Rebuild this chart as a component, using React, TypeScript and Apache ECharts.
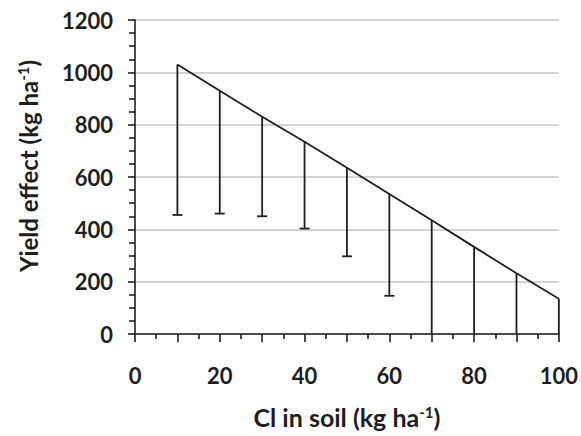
import React, { useEffect, useRef } from "react";
import * as echarts from "echarts";

const xValues = [10, 20, 30, 40, 50, 60, 70, 80, 90, 100];
const topValues = [1030, 930, 830, 735, 635, 535, 435, 333, 232, 135];
const lowValues = [455, 460, 450, 403, 297, 146, 0, 0, 0, 0];
const xTickLabels = ["0", "20", "40", "60", "80", "100"];

const FONT = "Lato, 'Open Sans', sans-serif";
const INK = "#1e1e1e";

export default function App() {
  const ref = useRef<HTMLDivElement>(null);
  useEffect(() => {
    const chart = echarts.init(ref.current!, null, { renderer: "svg" });
    const bars = xValues.map((x, i) => [x, topValues[i], lowValues[i]]);
    chart.setOption({
      animation: false,
      backgroundColor: "#ffffff",
      grid: { left: 135, right: 20, top: 20, bottom: 102 },
      xAxis: {
        type: "value",
        min: 0,
        max: 100,
        interval: 10,
        name: "{a|Cl in soil (kg ha}{s|-1}{a|)}",
        nameLocation: "middle",
        nameGap: 70,
        nameTextStyle: {
          rich: {
            a: { fontFamily: FONT, fontWeight: "bold", fontSize: 25, color: INK },
            s: { fontFamily: FONT, fontWeight: "bold", fontSize: 15, color: INK, verticalAlign: "top", padding: [0, 0, 10, 0] },
          },
        },
        axisLine: { show: true, onZero: false, lineStyle: { color: INK, width: 1.6 } },
        axisTick: { show: true, inside: false, length: 8, lineStyle: { color: INK, width: 1.6 } },
        minorTick: { show: true, splitNumber: 2, length: 5, lineStyle: { color: INK, width: 1.6 } },
        splitLine: { show: false },
        axisLabel: {
          margin: 30,
          fontFamily: FONT,
          fontWeight: "bold",
          fontSize: 22,
          color: INK,
          formatter: (v: number) => {
            const idx = xTickLabels.indexOf(String(v));
            return idx >= 0 ? xTickLabels[idx] : "";
          },
        },
      },
      yAxis: {
        type: "value",
        min: 0,
        max: 1200,
        interval: 200,
        axisLine: { show: true, lineStyle: { color: INK, width: 1.6 } },
        axisTick: { show: true, inside: false, length: 7, lineStyle: { color: INK, width: 1.6 } },
        minorTick: { show: true, splitNumber: 4, length: 6, lineStyle: { color: INK, width: 1.6 } },
        splitLine: { show: true, lineStyle: { color: "#c4c4c4", width: 1.5 } },
        axisLabel: {
          margin: 22,
          fontFamily: FONT,
          fontWeight: "bold",
          fontSize: 22,
          color: INK,
          formatter: (v: number) => String(v),
        },
      },
      graphic: [
        {
          type: "text",
          x: 28,
          y: 166,
          rotation: Math.PI / 2,
          style: {
            text: "{a|Yield effect (kg ha}{s|-1}{a|)}",
            align: "center",
            verticalAlign: "middle",
            rich: {
              a: { fontFamily: FONT, fontWeight: "bold", fontSize: 24, fill: INK, color: INK },
              s: { fontFamily: FONT, fontWeight: "bold", fontSize: 15, fill: INK, color: INK, verticalAlign: "top", padding: [0, 0, 10, 0] },
            },
          },
        },
      ],
      series: [
        {
          type: "line",
          data: xValues.map((x, i) => [x, topValues[i]]),
          symbol: "none",
          lineStyle: { color: INK, width: 1.8 },
          z: 3,
        },
        {
          type: "custom",
          data: bars,
          renderItem: (params: any, api: any) => {
            const x = api.value(0);
            const top = api.coord([x, api.value(1)]);
            const low = api.coord([x, api.value(2)]);
            const children: any[] = [
              {
                type: "line",
                shape: { x1: top[0], y1: top[1], x2: low[0], y2: low[1] },
                style: { stroke: INK, lineWidth: 1.8 },
              },
            ];
            if (api.value(2) > 0) {
              children.push({
                type: "line",
                shape: { x1: low[0] - 5, y1: low[1], x2: low[0] + 5, y2: low[1] },
                style: { stroke: INK, lineWidth: 1.8 },
              });
            }
            return { type: "group", children };
          },
          z: 4,
        },
      ],
    });
    return () => chart.dispose();
  }, []);
  return (
    <div
      ref={ref}
      style={{ position: "fixed", left: 0, top: 0, width: 581, height: 436 }}
    />
  );
}
